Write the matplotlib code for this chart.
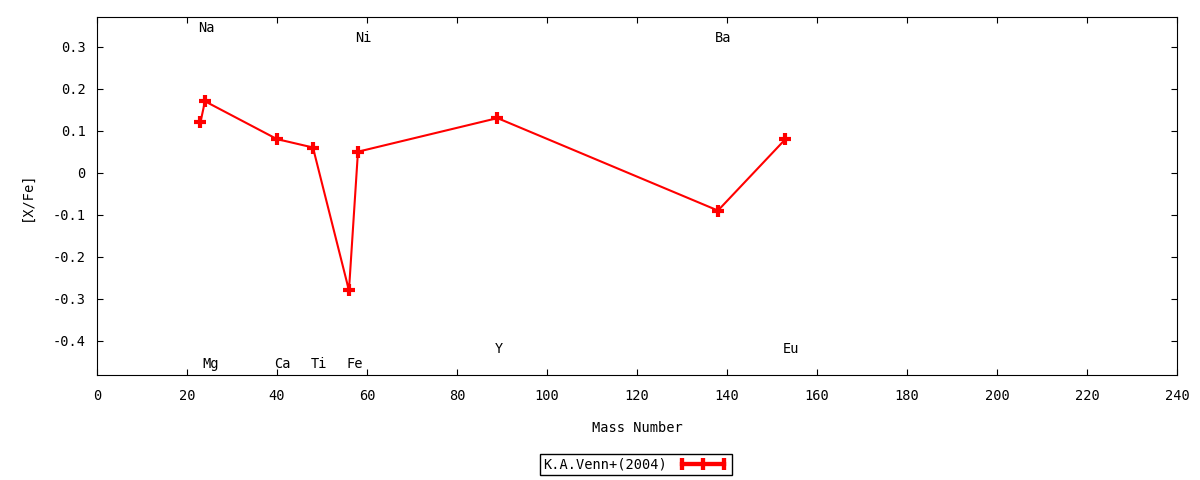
import matplotlib
matplotlib.use('Agg')
import matplotlib.pyplot as plt
from matplotlib.lines import Line2D

# 元素ごとのデータ (質量数, [X/Fe])
elements = ['Na', 'Mg', 'Ca', 'Ti', 'Fe', 'Ni', 'Y', 'Ba', 'Eu']
mass = [23, 24, 40, 48, 56, 58, 89, 138, 153]
xfe = [0.12, 0.17, 0.08, 0.06, -0.28, 0.05, 0.13, -0.09, 0.08]
label_y = [0.345, -0.455, -0.455, -0.455, -0.455, 0.32, -0.42, 0.32, -0.42]

plt.rcParams['font.family'] = ['DejaVu Sans Mono']
plt.rcParams['font.size'] = 9.8

fig = plt.figure(figsize=(12, 4.8), dpi=100)
ax = fig.add_axes([0.0808, 0.219, 0.9, 0.746])

ax.plot(mass, xfe, color='red', lw=1.5, marker='+', ms=9, mew=3)

for el, m, ly in zip(elements, mass, label_y):
    ax.text(m - 0.6, ly, el, ha='left', va='center')

ax.set_xlim(0, 240)
ax.set_ylim(-0.481, 0.371)
ax.set_xticks(range(0, 241, 20))
ax.set_yticks([-0.4, -0.3, -0.2, -0.1, 0, 0.1, 0.2, 0.3])
ax.set_yticklabels(['-0.4', '-0.3', '-0.2', '-0.1', '0', '0.1', '0.2', '0.3'])
ax.tick_params(axis='x', pad=10)
ax.tick_params(direction='in', top=True, right=True, length=4, width=0.8)
ax.tick_params(axis='y', pad=8)
ax.set_xlabel('Mass Number', labelpad=13)
ax.set_ylabel('[X/Fe]', labelpad=14)

# 凡例 (gnuplot風)
h1 = Line2D([], [], color='red', lw=3, marker='|', ms=9, mew=3, markevery=[0, 2])
h2 = Line2D([], [], color='red', lw=3, marker='|', ms=9, mew=3, markevery=[1])
fig.legend([(h1, h2)], ['K.A.Venn+(2004)'], loc='center', bbox_to_anchor=(0.5299, 0.032),
           numpoints=3, markerfirst=False, fancybox=False, edgecolor='black',
           framealpha=1, borderpad=0.25, handlelength=3.7, handletextpad=0.8)

fig.savefig('out.png', dpi=100)
